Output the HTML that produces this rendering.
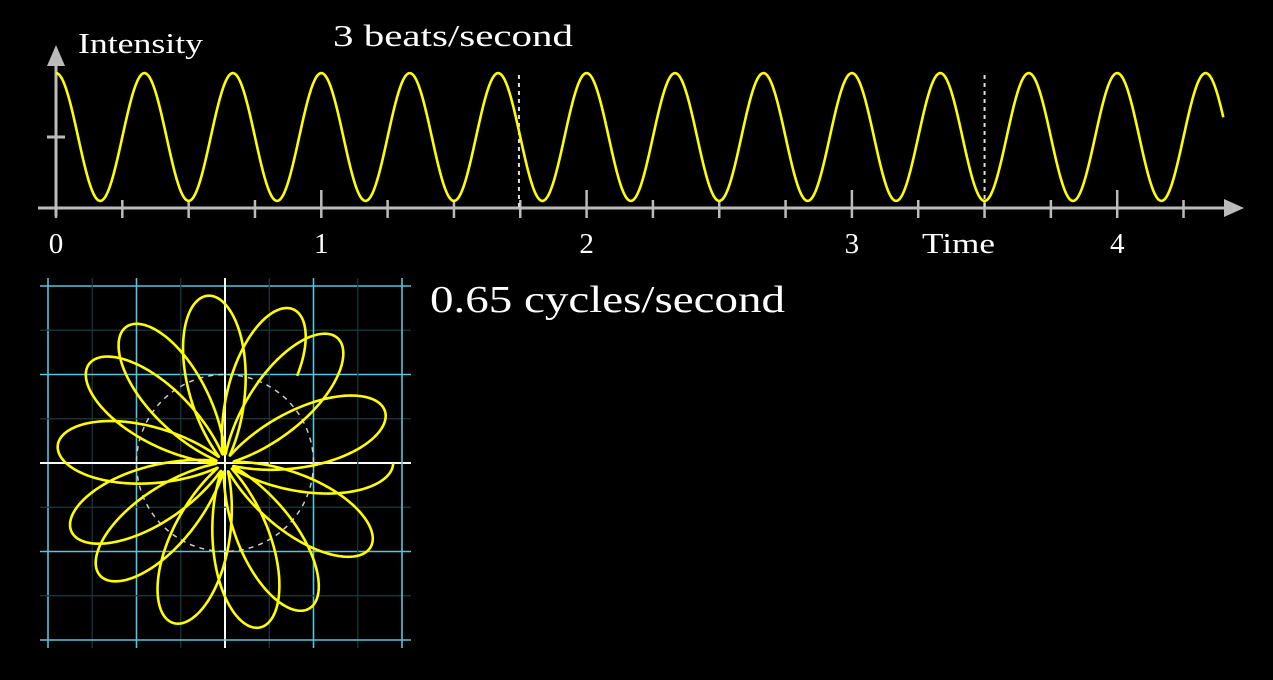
<!DOCTYPE html>
<html><head><meta charset="utf-8"><style>
html,body{margin:0;padding:0;background:#000;width:1273px;height:680px;overflow:hidden}
svg{display:block}
text{font-family:"Liberation Serif",serif;fill:#fff}
</style></head><body>
<svg id="chart" width="1273" height="680" viewBox="0 0 1273 680" xmlns="http://www.w3.org/2000/svg">
<g id="topg"></g>
<g id="bottomg"></g>
<text x="78" y="53" font-size="29" textLength="125" lengthAdjust="spacingAndGlyphs">Intensity</text>
<text x="333" y="46" font-size="31" textLength="240" lengthAdjust="spacingAndGlyphs">3 beats/second</text>
<text x="922" y="253" font-size="28" textLength="73" lengthAdjust="spacingAndGlyphs">Time</text>
<text x="430" y="312" font-size="38" textLength="355" lengthAdjust="spacingAndGlyphs">0.65  cycles/second</text>
</svg>
<script>
// data
const xTickLabels = ["0","1","2","3","4"];
const xTickValues = [0,1,2,3,4];
const beatFreq = [3];
const windFreq = [0.65];
const signalOffset = [1];
const signalAmp = [0.9];
const tRange = [0, 4.4];
const markerTimes = [1.745, 3.5];
const yTickValues = [1];

const NS="http://www.w3.org/2000/svg";
function mk(tag, attrs, parent){const e=document.createElementNS(NS,tag);for(const k in attrs)e.setAttribute(k,attrs[k]);parent.appendChild(e);return e;}
const topG=document.getElementById('topg'), botG=document.getElementById('bottomg');
const X0=56, XS=265.3, Y0=208, YS=71;
const xs=t=>X0+t*XS, ys=v=>Y0-v*YS;
const g=t=>signalOffset[0]+signalAmp[0]*Math.cos(2*Math.PI*beatFreq[0]*t);
const AX="#bbbbbb";

let e=mk('line',{x1:38,y1:Y0,x2:1228,y2:Y0,stroke:AX,'stroke-width':3},topG);


e=mk('polygon',{points:"1244,208 1224,199 1224,217",fill:AX},topG);


e=mk('line',{x1:X0,y1:216,x2:X0,y2:62,stroke:AX,'stroke-width':3},topG);


e=mk('polygon',{points:"56,45 47,66 65,66",fill:AX},topG);


yTickValues.forEach(v=>{
  const t=mk('line',{x1:X0-9,y1:ys(v),x2:X0+9,y2:ys(v),stroke:AX,'stroke-width':3},topG);
  
  
});
for(let i=0;i<=17;i++){
  const t=i/4, major=i%4===0;
  const l=mk('line',{x1:xs(t),y1:major?190:200,x2:xs(t),y2:218,stroke:AX,'stroke-width':2.5},topG);
  
  
}
xTickValues.forEach((v,i)=>{
  const tx=mk('text',{x:xs(v),y:253,'font-size':29,'text-anchor':'middle'},topG);
  tx.textContent=xTickLabels[i];
  
  
});
markerTimes.forEach(m=>{
  const l=mk('line',{x1:xs(m),y1:75,x2:xs(m),y2:Y0,stroke:'#ddd','stroke-width':2,'stroke-dasharray':'4 4'},topG);
  
  
});
let d="";
for(let i=0;i<=1500;i++){const t=tRange[0]+(tRange[1]-tRange[0])*i/1500;d+=(i?"L":"M")+xs(t).toFixed(2)+","+ys(g(t)).toFixed(2);}
e=mk('path',{d:d,fill:'none',stroke:'#ffff00','stroke-width':2.6},topG);



const CX=225, CY=463, U=88.5;
for(let k=-4;k<=4;k++){
  const p=CX+k*U/2, q=CY+k*U/2;
  const major=k%2===0;
  const col=major?'#58c4dd':'#1b3a40';
  const w=major?1.6:1.2;
  let a=mk('line',{x1:p,y1:278,x2:p,y2:648,stroke:k===0?'#fff':col,'stroke-width':k===0?2:w},botG);
  
  
  a=mk('line',{x1:40,y1:q,x2:411,y2:q,stroke:k===0?'#fff':col,'stroke-width':k===0?2:w},botG);
  
  
}
e=mk('circle',{cx:CX,cy:CY,r:U,fill:'none',stroke:'#ccc','stroke-width':1.5,'stroke-dasharray':'5 5'},botG);


d="";
for(let i=0;i<=3000;i++){
  const t=tRange[0]+(tRange[1]-tRange[0])*i/3000;
  const r=g(t)*U, a=2*Math.PI*windFreq[0]*t;
  d+=(i?"L":"M")+(CX+r*Math.cos(a)).toFixed(2)+","+(CY+r*Math.sin(a)).toFixed(2);
}
e=mk('path',{d:d,fill:'none',stroke:'#ffff00','stroke-width':2.6,'stroke-linejoin':'round'},botG);


</script>
</body></html>
